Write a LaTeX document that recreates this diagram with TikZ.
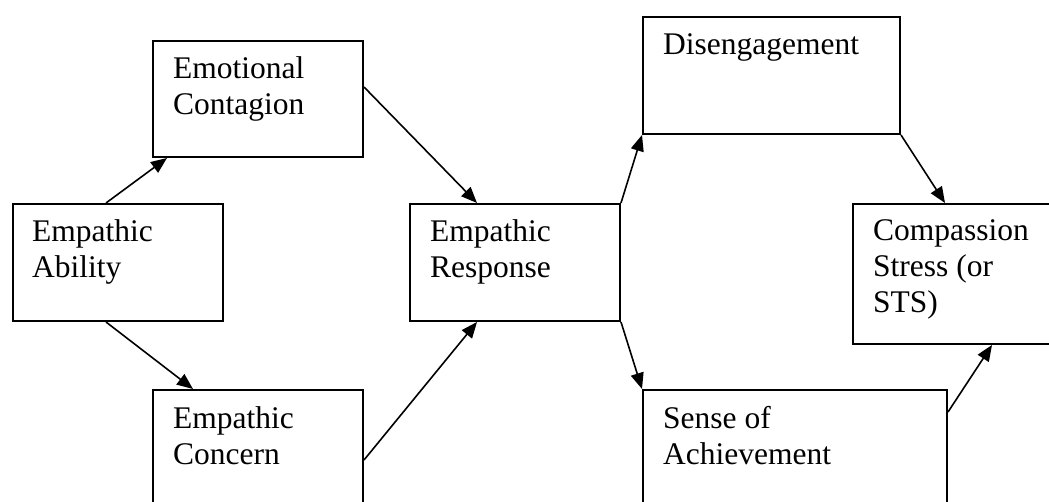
\documentclass[tikz,border=0pt]{standalone}
\usepackage{fontspec}
\setmainfont{Liberation Serif}
\usetikzlibrary{arrows.meta}
\begin{document}
\begin{tikzpicture}[x=1pt,y=-1pt,
  box/.style={draw=black,line width=2pt,fill=white,inner sep=0pt,anchor=north west},
  txt/.style={anchor=base west,inner sep=0pt,align=left,font=\fontsize{31.5pt}{36pt}\selectfont},
  conn/.style={line width=1.6pt,-{Triangle[length=16pt,width=13pt]}}]
\clip (0,0) rectangle (1049,502);
\fill[white] (0,0) rectangle (1049,502);
% boxes
\node[box,minimum width=210pt,minimum height=117pt] (ab) at (12,203) {};
\node[box,minimum width=210pt,minimum height=116pt] (ec) at (152,40) {};
\node[box,minimum width=210pt,minimum height=125pt] (cn) at (152,389) {};
\node[box,minimum width=210pt,minimum height=117pt] (er) at (409,203) {};
\node[box,minimum width=257pt,minimum height=117pt] (dg) at (642,16) {};
\node[box,minimum width=210pt,minimum height=140pt] (cs) at (852,203) {};
\node[box,minimum width=304pt,minimum height=125pt] (sa) at (642,389) {};
% texts (base anchor = last line baseline)
\node[txt] (abt) at ([xshift=20pt,yshift=-75pt]ab.north west) {Empathic\\Ability};
\node[txt] (ect) at ([xshift=21pt,yshift=-75pt]ec.north west) {Emotional\\Contagion};
\node[txt] (cnt) at ([xshift=21pt,yshift=-75pt]cn.north west) {Empathic\\Concern};
\node[txt] (ert) at ([xshift=21pt,yshift=-75pt]er.north west) {Empathic\\Response};
\node[txt] (dgt) at ([xshift=21pt,yshift=-39pt]dg.north west) {Disengagement};
\node[txt] (cst) at ([xshift=21pt,yshift=-110pt]cs.north west) {Compassion\\Stress (or\\STS)};
\node[txt] (sat) at ([xshift=21pt,yshift=-75pt]sa.north west) {Sense of\\Achievement};
% connectors
\draw[conn] ([xshift=94pt]ab.north west) -- ([xshift=15pt]ec.south west);
\draw[conn] ([xshift=94pt]ab.south west) -- ([xshift=41pt]cn.north west);
\draw[conn] ([yshift=-47pt]ec.north east) -- ([xshift=68pt]er.north west);
\draw[conn] ([yshift=-71pt]cn.north east) -- ([xshift=68pt]er.south west);
\draw[conn] (er.north east) -- (dg.south west);
\draw[conn] (er.south east) -- (sa.north west);
\draw[conn] (dg.south east) -- ([xshift=93pt]cs.north west);
\draw[conn] ([yshift=-23pt]sa.north east) -- ([xshift=140pt]cs.south west);
\end{tikzpicture}
\end{document}
